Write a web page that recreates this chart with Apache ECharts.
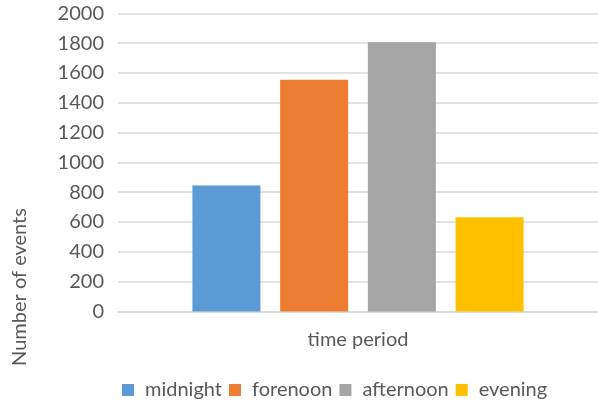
<!DOCTYPE html>
<html>
<head>
<meta charset="utf-8">
<script src="https://cdn.jsdelivr.net/npm/echarts@6/dist/echarts.min.js"></script>
<style>
  html, body { margin: 0; padding: 0; background: #fff; }
  #chart { width: 598px; height: 403px; }
</style>
</head>
<body>
<div id="chart"></div>
<script>
// One category on the x axis, one bar per time period
const categories = ['time period'];
const periods = ['midnight', 'forenoon', 'afternoon', 'evening'];
const eventCounts = [845, 1555, 1805, 632];
const periodColors = ['#5B9BD5', '#ED7D31', '#A5A5A5', '#FFC000'];
const yTicks = { min: 0, max: 2000, step: 200 };

const FONT = 'Lato';
const TEXT = '#595959';

const chart = echarts.init(document.getElementById('chart'), null, { renderer: 'canvas' });

chart.setOption({
  animation: false,
  backgroundColor: '#fff',
  textStyle: { fontFamily: FONT },
  grid: { left: 118, right: 0, top: 13.3, bottom: 91.5, containLabel: false },
  legend: {
    data: periods,
    top: 375,
    left: 117,
    itemWidth: 12,
    itemHeight: 12,
    itemGap: 7,
    icon: 'rect',
    textStyle: { color: TEXT, fontSize: 20, fontFamily: FONT, padding: [0, 0, 0, 6] }
  },
  xAxis: {
    type: 'category',
    data: categories,
    axisLine: { show: true, lineStyle: { color: '#D9D9D9', width: 1.5 } },
    axisTick: { show: false },
    axisLabel: { color: TEXT, fontSize: 20, fontFamily: FONT, margin: 18 },
    splitLine: { show: false }
  },
  yAxis: {
    type: 'value',
    min: yTicks.min,
    max: yTicks.max,
    interval: yTicks.step,
    axisLine: { show: false },
    axisTick: { show: false },
    axisLabel: {
      color: TEXT, fontSize: 20, fontFamily: FONT, margin: 14,
      formatter: v => String(v)
    },
    splitLine: { lineStyle: { color: '#D9D9D9', width: 1.5 } }
  },
  graphic: [{
    type: 'text',
    x: 20,
    y: 287,
    rotation: Math.PI / 2,
    style: {
      text: 'Number of events',
      fill: TEXT,
      font: '20px ' + FONT,
      align: 'center',
      verticalAlign: 'middle'
    }
  }],
  series: periods.map((name, i) => ({
    name,
    type: 'bar',
    data: [eventCounts[i]],
    barWidth: 68,
    barGap: '29%',
    itemStyle: { color: periodColors[i] }
  }))
});
</script>
</body>
</html>
